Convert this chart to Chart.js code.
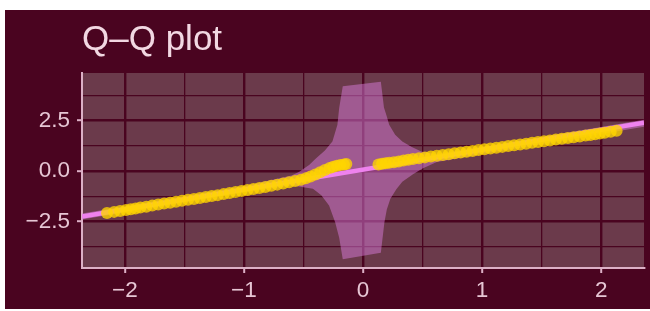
<!DOCTYPE html>
<html>
<head>
<meta charset="utf-8">
<script src="https://cdn.jsdelivr.net/npm/chart.js@4/dist/chart.umd.min.js"></script>
<style>
  html, body { margin: 0; padding: 0; background: #ffffff; }
  canvas { display: block; }
</style>
</head>
<body>
<canvas id="c" width="650" height="311"></canvas>
<script>
// ---- data ----
const titleText = 'Q–Q plot';

// sample points (theoretical quantile, sample quantile)
const pointX = [-2.15,-2.09,-2.04,-1.99,-1.95,-1.91,-1.87,-1.82,-1.77,-1.72,-1.67,-1.62,-1.57,-1.52,-1.47,-1.42,-1.37,-1.32,-1.27,-1.22,-1.17,-1.12,-1.07,-1.02,-0.97,-0.92,-0.87,-0.82,-0.77,-0.72,-0.67,-0.62,-0.57,-0.52,-0.48,-0.44,-0.40,-0.36,-0.32,-0.28,-0.25,-0.22,-0.19,-0.16,-0.14,
  0.13,0.16,0.19,0.22,0.26,0.30,0.34,0.38,0.42,0.47,0.52,0.57,0.62,0.67,0.72,0.77,0.82,0.87,0.92,0.97,1.02,1.07,1.12,1.17,1.22,1.27,1.32,1.37,1.42,1.47,1.52,1.57,1.62,1.67,1.72,1.77,1.82,1.87,1.91,1.95,1.99,2.03,2.08,2.13];
const pointY = [-2.07,-2.02,-1.98,-1.93,-1.89,-1.85,-1.80,-1.76,-1.71,-1.66,-1.61,-1.57,-1.52,-1.47,-1.42,-1.38,-1.33,-1.28,-1.23,-1.19,-1.14,-1.09,-1.04,-0.99,-0.94,-0.89,-0.84,-0.79,-0.73,-0.67,-0.61,-0.55,-0.49,-0.43,-0.36,-0.27,-0.17,-0.06,0.05,0.15,0.22,0.27,0.30,0.33,0.35,
  0.33,0.36,0.39,0.41,0.44,0.48,0.52,0.56,0.60,0.64,0.68,0.72,0.76,0.80,0.84,0.88,0.92,0.96,1.00,1.04,1.08,1.12,1.16,1.20,1.24,1.28,1.32,1.36,1.40,1.44,1.48,1.52,1.56,1.60,1.64,1.68,1.72,1.76,1.79,1.83,1.86,1.90,1.95,2.00];

// reference line
const lineX = [-2.36, 2.36];
const lineY = [-2.25, 2.40];

// confidence band
const bandUpperX = [-2.36,-1.00,-0.60,-0.535,-0.45,-0.396,-0.32,-0.257,-0.215,-0.20,-0.17,0.15,0.176,0.20,0.22,0.27,0.33,0.41,0.49,0.60,1.00,2.36];
const bandUpperY = [-2.10,-0.75,-0.22,-0.03,0.32,0.63,1.02,1.47,2.30,3.13,4.20,4.43,3.15,2.70,2.30,1.80,1.47,1.20,0.97,0.85,1.20,2.55];
const bandLowerX = [-2.36,-1.00,-0.60,-0.50,-0.42,-0.35,-0.285,-0.234,-0.20,-0.17,0.15,0.18,0.20,0.23,0.28,0.33,0.42,0.50,0.62,1.00,2.36];
const bandLowerY = [-2.40,-1.05,-0.70,-0.80,-0.87,-1.20,-1.70,-2.53,-3.30,-4.37,-4.05,-2.53,-1.90,-1.37,-0.90,-0.53,-0.15,0.13,0.45,0.85,2.20];

// axes
const xRange = [-2.36, 2.36];
const yRange = [-4.80, 4.86];
const xMajor = [-2, -1, 0, 1, 2];
const xMinor = [-1.5, -0.5, 0.5, 1.5];
const xTickLabels = ['−2', '−1', '0', '1', '2'];
const yMajor = [-2.5, 0, 2.5];
const yMinor = [-3.75, -1.25, 1.25, 3.75];
const yTickLabels = ['−2.5', '0.0', '2.5'];

// ---- styles ----
const BG = '#4a0420';
const PANEL = '#6b3a4b';
const GRID = '#4a0420';
const AXIS = '#dcb0c6';
const TEXT = '#e6c6d4';
const FONT = 'Liberation Sans, Arial, sans-serif';

const toXY = (xs, ys) => xs.map((x, i) => ({ x: x, y: ys[i] }));

const bgPlugin = {
  id: 'bg',
  beforeDraw(chart) {
    const ctx = chart.ctx, a = chart.chartArea;
    ctx.save();
    ctx.fillStyle = '#ffffff';
    ctx.fillRect(0, 0, chart.width, chart.height);
    ctx.fillStyle = BG;
    ctx.fillRect(5, 10, chart.width - 5, chart.height - 12);
    ctx.fillStyle = PANEL;
    ctx.fillRect(a.left, a.top, a.right - a.left, a.bottom - a.top);
    ctx.restore();
  }
};

function gridScale(min, max, major, minor, labels, fit, pad) {
  const all = major.concat(minor).sort((a, b) => a - b);
  const isMajor = v => major.some(m => Math.abs(m - v) < 1e-9);
  return {
    type: 'linear',
    min: min, max: max,
    afterBuildTicks: s => { s.ticks = all.map(v => ({ value: v })); },
    afterFit: fit,
    grid: {
      color: GRID,
      lineWidth: c => (c.tick && isMajor(c.tick.value)) ? 2.4 : 1.3,
      tickColor: c => (c.tick && isMajor(c.tick.value)) ? AXIS : 'rgba(0,0,0,0)',
      tickWidth: 2,
      tickLength: 5,
      drawTicks: true
    },
    border: { display: true, color: AXIS, width: 2 },
    ticks: {
      autoSkip: false,
      maxRotation: 0,
      color: TEXT,
      font: { family: FONT, size: 22.5 },
      padding: pad,
      callback: v => {
        const i = major.findIndex(m => Math.abs(m - v) < 1e-9);
        return i >= 0 ? labels[i] : '';
      }
    }
  };
}

const xScale = gridScale(xRange[0], xRange[1], xMajor, xMinor, xTickLabels, s => { s.height = 40; }, 4);
const yScale = gridScale(yRange[0], yRange[1], yMajor, yMinor, yTickLabels, s => { s.width = 77; }, 7);

new Chart(document.getElementById('c'), {
  type: 'line',
  data: {
    datasets: [
      {
        label: 'sample',
        data: toXY(pointX, pointY),
        showLine: false,
        pointRadius: 6,
        pointBorderWidth: 0,
        pointBackgroundColor: 'rgba(255,213,0,0.78)',
        pointBorderColor: 'rgba(0,0,0,0)',
        order: 0
      },
      {
        label: 'line',
        data: toXY(lineX, lineY),
        borderColor: '#ee82ee',
        borderWidth: 4.5,
        pointRadius: 0,
        fill: false,
        order: 1
      },
      {
        label: 'band upper',
        data: toXY(bandUpperX, bandUpperY),
        borderWidth: 0,
        borderColor: 'rgba(0,0,0,0)',
        pointRadius: 0,
        backgroundColor: 'rgba(213,122,215,0.5)',
        fill: '+1',
        tension: 0,
        order: 2
      },
      {
        label: 'band lower',
        data: toXY(bandLowerX, bandLowerY),
        borderWidth: 0,
        borderColor: 'rgba(0,0,0,0)',
        pointRadius: 0,
        fill: false,
        tension: 0,
        order: 3
      }
    ]
  },
  options: {
    responsive: false,
    animation: false,
    layout: { padding: { left: 5, right: 5, top: 10, bottom: 3 } },
    plugins: {
      legend: { display: false },
      tooltip: { enabled: false },
      title: {
        display: true,
        text: titleText,
        align: 'start',
        fullSize: false,
        color: '#f2d8e2',
        font: { family: FONT, size: 35, weight: 'normal' },
        padding: { top: 9, bottom: 12 }
      }
    },
    scales: { x: xScale, y: yScale }
  },
  plugins: [bgPlugin]
});
</script>
</body>
</html>
